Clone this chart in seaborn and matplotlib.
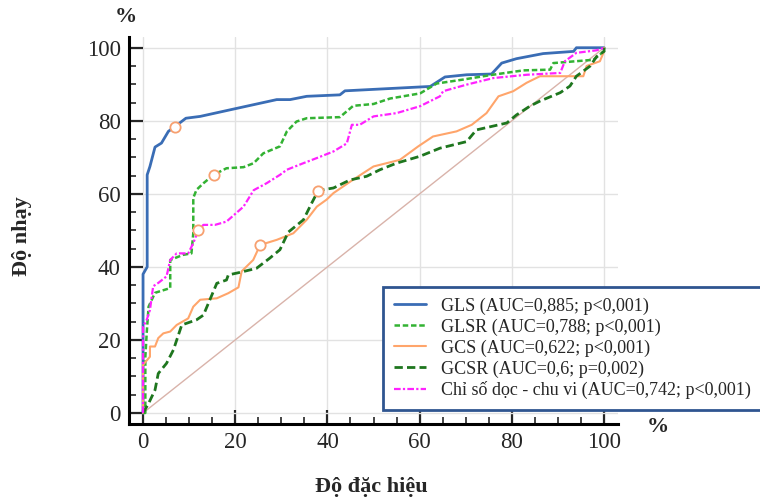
import matplotlib
matplotlib.use("Agg")
import matplotlib.pyplot as plt
import seaborn as sns
from matplotlib.ticker import MultipleLocator

# ROC curves (x = 100 - specificity, y = sensitivity, %)
gls_x = [0, 0, 0.9, 0.9, 1.5, 2.6, 4.0, 5.5, 6.9, 9.3, 12.4, 19.6, 29, 31.9, 35.5, 42.7, 43.8,
         62.3, 65.5, 70.2, 75.6, 77.8, 81, 86.8, 93.4, 94, 100]
gls_y = [0, 38, 40, 65.2, 67.5, 72.8, 73.9, 77.1, 78.4, 80.7, 81.2, 83.2, 85.8, 85.8, 86.7, 87.1, 88.2,
         89.4, 92.0, 92.6, 92.8, 95.8, 97, 98.4, 99, 100, 100]

glsr_x = [0, 0.5, 0.5, 0.8, 1.2, 2.6, 5.9, 5.9, 8.7, 10.5, 10.9, 10.9, 11.6, 13.1, 15.3, 18.1, 21.8, 24,
          26.1, 29.7, 31.2, 33.3, 35.5, 42.7, 45.6, 50, 53.6, 60.1, 63.7, 69.5, 75.3, 82.5, 88.3, 89,
          97.7, 100, 100]
glsr_y = [0, 0, 15.3, 21.9, 29.1, 32.9, 34.2, 41.9, 43.3, 43.7, 49.2, 58.9, 61.1, 62.9, 65.2, 67.0, 67.3,
          68.4, 71.1, 73, 77.1, 79.8, 80.7, 81, 84.1, 84.6, 86.1, 87.5, 90.2, 91.3, 92.5, 93.8, 94.0,
          95.8, 96.7, 99, 100]

gcs_x = [0, 0, 1.5, 1.5, 2.6, 3.3, 4.4, 5.9, 7.3, 9.8, 10.9, 12.4, 16, 18.5, 20.7, 21.4, 23.9, 25.4,
         29, 32.6, 35.5, 37.7, 39.8, 41.3, 44.9, 47.8, 50, 55.7, 59.7, 62.9, 68, 71.3, 74.5, 77.1,
         80.3, 83.2, 86.1, 95.5, 96.2, 99.1, 100, 100]
gcs_y = [0, 13.2, 15.4, 18.2, 18.2, 20.5, 21.8, 22.3, 24.1, 25.9, 29.1, 31.0, 31.4, 32.8, 34.4, 38.8,
         41.9, 46, 47.4, 49.2, 52.9, 56.5, 58.4, 60.2, 63.3, 65.7, 67.5, 69.3, 73, 75.7, 77.1, 78.9,
         82.1, 86.7, 88.1, 90.4, 92.2, 92.2, 95, 96.3, 99, 100]

gcsr_x = [0, 1.2, 2.6, 3.3, 5.1, 6.6, 8.4, 11.6, 13.1, 14.5, 16, 18.1, 18.5, 20.7, 24.6, 27.5, 29.7,
          31.5, 34.8, 36.6, 38, 41.3, 44.9, 48.5, 51.4, 55, 60.1, 64.4, 70.2, 72.3, 78.9, 81, 83.9,
          86.1, 90.5, 92.6, 94, 97, 98.4, 100, 100]
gcsr_y = [0, 2.6, 6.3, 10.8, 13.6, 17.3, 24.1, 25.5, 26.8, 31, 35.5, 36.4, 37.8, 38.4, 39.6, 42.4,
          44.7, 49.5, 52.9, 57.5, 60.9, 61.6, 63.8, 64.8, 66.6, 68.4, 70.3, 72.5, 74.3, 77.5, 79.4,
          81.6, 84, 85.4, 87.7, 89.5, 92.2, 95, 97.6, 99, 100]

cs_x = [0, 0, 0.8, 1.5, 2.2, 3.3, 5.1, 5.9, 7.3, 9.8, 10.9, 12, 13.1, 15.6, 18.1, 21.8, 24, 26.8,
        29.7, 31.2, 34.8, 37.7, 41.3, 44.2, 45.3, 47, 50, 55, 60.1, 64.4, 65.1, 70.2, 76, 83.2,
        90.5, 91.5, 94, 98.4, 100]
cs_y = [0, 23.6, 25.5, 28.2, 34.7, 35.6, 37.4, 41.9, 43.7, 43.7, 46.5, 50.1, 51.5, 51.5, 52.4, 56.5,
        61, 62.9, 65.2, 66.6, 68.4, 69.8, 71.6, 73.8, 78.9, 78.9, 81.2, 82.1, 84, 86.7, 88.1, 89.9,
        91.7, 92.6, 93.1, 96.3, 98.6, 99.3, 100]

# optimal cut-off points (open circles)
cut_x = [6.9, 15.3, 25.4, 38.0, 12.0]
cut_y = [78.4, 65.2, 46.0, 60.9, 50.1]

labels = [
    "GLS (AUC=0,885; p<0,001)",
    "GLSR (AUC=0,788; p<0,001)",
    "GCS (AUC=0,622; p<0,001)",
    "GCSR (AUC=0,6; p=0,002)",
    "Chỉ số dọc - chu vi (AUC=0,742; p<0,001)",
]

sns.set_style("white")
plt.rcParams['font.family'] = ['Liberation Serif', 'DejaVu Serif']

fig = plt.figure(figsize=(7.6, 4.97), dpi=100)
ax = fig.add_axes([0.170, 0.147, 0.643, 0.779])

# reference diagonal
sns.lineplot(x=[0, 100], y=[0, 100], ax=ax, color='#D9B3AA', linewidth=1, zorder=1)

curves = [
    (gls_x, gls_y, '#3A6DB5', '-', 2.0),
    (glsr_x, glsr_y, '#33B233', (0, (2.2, 1.1)), 1.8),
    (gcs_x, gcs_y, '#FFA56B', '-', 1.5),
    (gcsr_x, gcsr_y, '#1E761E', (0, (3, 1.5)), 2.0),
    (cs_x, cs_y, '#FF22FF', (0, (3, 1, 1, 1)), 1.6),
]
for (xs, ys, col, ls, lw), lab in zip(curves, labels):
    sns.lineplot(x=xs, y=ys, ax=ax, color=col, linestyle=ls, linewidth=lw,
                 sort=False, estimator=None, label=lab, zorder=3)

sns.scatterplot(x=cut_x, y=cut_y, ax=ax, marker='o', s=55, facecolor='white',
                edgecolor='#F7A070', linewidth=1.3, zorder=5)

ax.set_xlim(-3, 103)
ax.set_ylim(-3, 103)
ax.xaxis.set_major_locator(MultipleLocator(20))
ax.yaxis.set_major_locator(MultipleLocator(20))
ax.xaxis.set_minor_locator(MultipleLocator(5))
ax.yaxis.set_minor_locator(MultipleLocator(5))
ax.grid(True, which='major', color='#E2E2E2', linewidth=1)
ax.tick_params(which='major', direction='in', length=10, width=1.6, labelsize=16.5, pad=6)
ax.tick_params(which='minor', direction='in', length=5, width=1.2)
ax.tick_params(axis='y', which='both', left=True)
ax.tick_params(axis='x', which='both', bottom=True)

for s in ['top', 'right']:
    ax.spines[s].set_visible(False)
for s in ['left', 'bottom']:
    ax.spines[s].set_linewidth(2.2)
    ax.spines[s].set_color('black')

ax.set_xlabel('')
ax.set_ylabel('')
fig.text(0.489, 0.02, 'Độ đặc hiệu', ha='center', va='center', fontsize=16, fontweight='bold')
fig.text(0.029, 0.525, 'Độ nhạy', ha='center', va='center', rotation=90, fontsize=16,
         fontweight='bold')
fig.text(0.165, 0.966, '%', ha='center', va='center', fontsize=16, fontweight='bold')
fig.text(0.865, 0.141, '%', ha='center', va='center', fontsize=16, fontweight='bold')

leg = ax.legend(loc='lower left', bbox_to_anchor=(0.504, 0.175), bbox_transform=fig.transFigure,
                fontsize=13, frameon=True, fancybox=False, handlelength=1.8,
                handletextpad=0.8, labelspacing=0.2, borderpad=0.6, borderaxespad=0)
leg.get_frame().set_edgecolor('#2F5590')
leg.get_frame().set_linewidth(2)
leg.get_frame().set_alpha(1)

fig.savefig('out.png', dpi=100)
